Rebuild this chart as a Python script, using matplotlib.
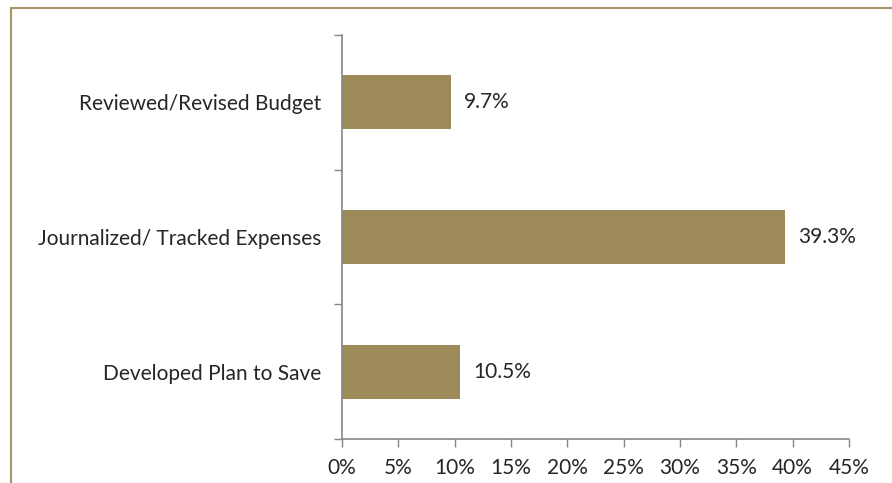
import matplotlib.pyplot as plt
from matplotlib.patches import Rectangle
from matplotlib.ticker import MultipleLocator, FuncFormatter, FixedLocator

plt.rcParams['font.family'] = ['Lato', 'DejaVu Sans']

categories = ["Developed Plan to Save", "Journalized/ Tracked Expenses", "Reviewed/Revised Budget"]
values = [10.5, 39.3, 9.7]

bar_color = "#9c8b59"
axis_color = "#868686"
text_color = "#262626"
fs = 15

fig = plt.figure(figsize=(8.92, 4.83), dpi=100)
ax = fig.add_axes([0.3834, 0.0911, 0.5684, 0.8364])

# outer frame of the chart area
fig.patches.append(Rectangle((11 / 892, -0.2), 1.2, 0.2 + 1 - 8 / 483,
                             transform=fig.transFigure, fill=False,
                             edgecolor="#a39769", linewidth=1.5))

pos = range(len(categories))
ax.barh(pos, values, height=0.4, color=bar_color)
for p, v in zip(pos, values):
    ax.annotate(f"{v:.1f}%", (v, p), xytext=(13, 0), textcoords="offset pixels",
                va="center", ha="left", fontsize=fs, color=text_color)

ax.set_xlim(0, 45)
ax.set_ylim(-0.5, 2.5)
ax.xaxis.set_major_locator(MultipleLocator(5))
ax.xaxis.set_major_formatter(FuncFormatter(lambda x, _: f"{x:.0f}%"))

ax.yaxis.set_major_locator(FixedLocator([-0.5, 0.5, 1.5, 2.5]))
ax.yaxis.set_major_formatter(FuncFormatter(lambda y, _: ""))
ax.set_yticks(list(pos), categories, minor=True)
ax.tick_params(axis="y", which="minor", length=0, pad=15, labelsize=fs, labelcolor=text_color)
ax.tick_params(axis="y", which="major", length=6, color=axis_color, width=1)
ax.tick_params(axis="x", length=6, color=axis_color, width=1, pad=8,
               labelsize=fs, labelcolor=text_color)

for s in ["top", "right"]:
    ax.spines[s].set_visible(False)
for s in ["left", "bottom"]:
    ax.spines[s].set_color(axis_color)
    ax.spines[s].set_linewidth(1.2)

fig.savefig("out.png", dpi=100)
